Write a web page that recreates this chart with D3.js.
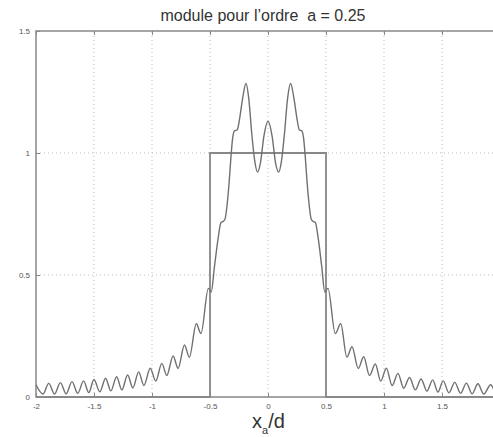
<!DOCTYPE html>
<meta charset="utf-8">
<style>

body {
  margin: 0;
  background: #fff;
}

.grid line {
  stroke: #bbb;
  stroke-dasharray: 1,3;
}

.axis path,
.axis line {
  stroke: #888;
}

.axis text {
  fill: #555;
  font: 8px "Liberation Sans", Arial, sans-serif;
}

.frame {
  fill: none;
  stroke: #888;
  stroke-width: 1.5;
}

.rect {
  fill: none;
  stroke: #888;
  stroke-width: 1.8;
}

.module {
  fill: none;
  stroke: #707070;
  stroke-width: 1.4;
  stroke-linejoin: round;
}

.title {
  white-space: pre;
}

</style>
<svg width="493" height="437"></svg>
<script src="https://d3js.org/d3.v7.min.js"></script>
<script>

// module of the fractional transform
var modX = [-2.0, -1.94, -1.89, -1.84, -1.79, -1.74, -1.69, -1.64, -1.59, -1.545,
    -1.50, -1.45, -1.40, -1.355, -1.305, -1.26, -1.21, -1.165, -1.115, -1.07,
    -1.015, -0.968, -0.915, -0.873, -0.818, -0.775, -0.72, -0.678, -0.618, -0.578,
    -0.514, -0.49, -0.46, -0.43, -0.405, -0.385, -0.37, -0.35, -0.335, -0.32,
    -0.305, -0.29, -0.265, -0.245, -0.22, -0.19, -0.165, -0.14, -0.115, -0.09,
    -0.065, -0.035, 0,
    0.035, 0.065, 0.092, 0.117, 0.142, 0.168, 0.195, 0.225, 0.25, 0.27,
    0.292, 0.307, 0.322, 0.337, 0.352, 0.372, 0.388, 0.408, 0.433, 0.462,
    0.49, 0.517, 0.58, 0.627, 0.68, 0.724, 0.778, 0.825, 0.875, 0.925,
    0.972, 1.02, 1.07, 1.12, 1.17, 1.22, 1.27, 1.32, 1.37, 1.42,
    1.465, 1.51, 1.56, 1.61, 1.66, 1.71, 1.76, 1.81, 1.86, 1.92,
    1.97, 2.0];

var modY = [0.05, 0.012, 0.056, 0.012, 0.059, 0.013, 0.063, 0.015, 0.066, 0.018,
    0.072, 0.021, 0.077, 0.025, 0.083, 0.029, 0.09, 0.037, 0.103, 0.047,
    0.118, 0.065, 0.138, 0.088, 0.168, 0.117, 0.213, 0.163, 0.30, 0.26,
    0.445, 0.43, 0.54, 0.65, 0.715, 0.72, 0.73, 0.80, 0.88, 0.98,
    1.06, 1.09, 1.095, 1.14, 1.22, 1.285, 1.22, 1.08, 0.97, 0.922,
    0.96, 1.07, 1.13,
    1.07, 0.96, 0.922, 0.97, 1.08, 1.22, 1.285, 1.22, 1.14, 1.095,
    1.09, 1.06, 0.98, 0.88, 0.80, 0.73, 0.72, 0.715, 0.65, 0.54,
    0.43, 0.445, 0.26, 0.30, 0.163, 0.206, 0.117, 0.165, 0.088, 0.135,
    0.065, 0.118, 0.047, 0.097, 0.036, 0.08, 0.029, 0.074, 0.024, 0.07,
    0.02, 0.066, 0.017, 0.06, 0.015, 0.057, 0.013, 0.054, 0.012, 0.05,
    0.012, 0.03];

// the input rectangle
var rectX = [-2, -0.5, -0.5, 0.5, 0.5, 2];
var rectY = [0, 0, 1, 1, 0, 0];

var xTicks = [-2, -1.5, -1, -0.5, 0, 0.5, 1, 1.5];
var yTicks = [0, 0.5, 1, 1.5];

var svg = d3.select("svg");

var x = d3.scaleLinear()
    .domain([-2, 2])
    .range([36, 500]);

var y = d3.scaleLinear()
    .domain([0, 1.5])
    .range([397, 31]);

// dotted grid
svg.append("g")
    .attr("class", "grid")
  .selectAll("line.v")
  .data(xTicks.filter(function(d) { return d > -2; }))
  .enter().append("line")
    .attr("x1", function(d) { return x(d); })
    .attr("x2", function(d) { return x(d); })
    .attr("y1", y(0))
    .attr("y2", y(1.5));

svg.select(".grid")
  .selectAll("line.h")
  .data(yTicks.filter(function(d) { return d > 0 && d < 1.5; }))
  .enter().append("line")
    .attr("x1", x(-2))
    .attr("x2", x(2))
    .attr("y1", function(d) { return y(d); })
    .attr("y2", function(d) { return y(d); });

svg.append("rect")
    .attr("class", "frame")
    .attr("x", x(-2))
    .attr("y", y(1.5))
    .attr("width", x(2) - x(-2))
    .attr("height", y(0) - y(1.5));

svg.append("g")
    .attr("class", "axis")
    .attr("transform", "translate(0," + y(0) + ")")
    .call(d3.axisBottom(x).tickValues(xTicks).tickSize(-4).tickPadding(6).tickFormat(function(d) { return String(d); }))
    .select(".domain").remove();

svg.append("g")
    .attr("class", "axis")
    .attr("transform", "translate(0," + y(1.5) + ")")
    .call(d3.axisTop(x).tickValues(xTicks).tickSize(-4).tickFormat(""))
    .select(".domain").remove();

svg.append("g")
    .attr("class", "axis")
    .attr("transform", "translate(" + x(-2) + ",0)")
    .call(d3.axisLeft(y).tickValues(yTicks).tickSize(-4).tickPadding(6).tickFormat(function(d) { return String(d); }))
    .select(".domain").remove();

var line = d3.line()
    .x(function(d) { return x(d[0]); })
    .y(function(d) { return y(d[1]); });

svg.append("path")
    .attr("class", "rect")
    .attr("d", line(d3.zip(rectX, rectY)));

svg.append("path")
    .attr("class", "module")
    .attr("d", line.curve(d3.curveMonotoneX)(d3.zip(modX, modY)));

svg.append("text")
    .attr("class", "title")
    .attr("x", 263)
    .attr("y", 21)
    .attr("text-anchor", "middle")
    .attr("fill", "#333")
    .style("font", "16px 'Liberation Sans', Arial, sans-serif")
    .text("module pour l’ordre  a = 0.25");

var lab = svg.append("text")
    .attr("x", 252)
    .attr("y", 428)
    .attr("fill", "#333")
    .style("font", "20px 'Liberation Sans', Arial, sans-serif");
lab.append("tspan").text("x");
lab.append("tspan").attr("dy", 6).style("font-size", "11px").text("a");
lab.append("tspan").attr("dy", -6).text("/d");

</script>
